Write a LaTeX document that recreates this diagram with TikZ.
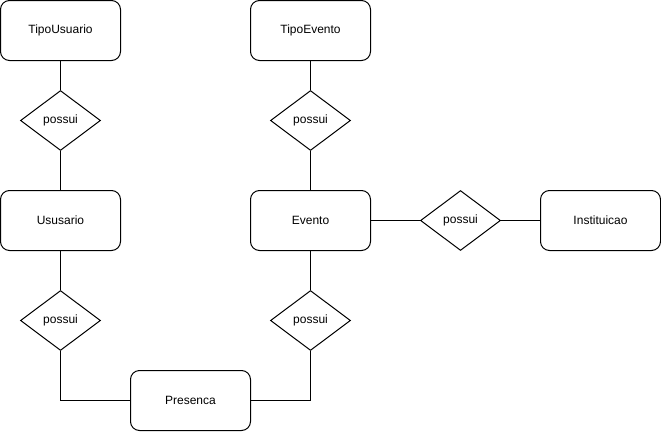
\documentclass[tikz,border=0pt]{standalone}
\usepackage{fontspec}
\setmainfont{Liberation Sans}
\usetikzlibrary{shapes.geometric}
\begin{document}
\begin{tikzpicture}[x=1pt,y=-1pt,
  ent/.style={draw,rounded corners=9pt,minimum width=120pt,minimum height=60pt,line width=1pt,font=\fontsize{12}{14}\selectfont,inner sep=0pt},
  rel/.style={draw,diamond,aspect=1.3333,minimum width=80pt,minimum height=60pt,inner sep=0pt,line width=1pt,font=\fontsize{12}{14}\selectfont},
  conn/.style={line width=1pt}]
\useasboundingbox (0,0) rectangle (661,431);
\node[ent] (tu) at (60.5,30.5) {TipoUsuario};
\node[ent] (te) at (310.5,30.5) {TipoEvento};
\node[ent] (us) at (60.5,220.5) {Ususario};
\node[ent] (ev) at (310.5,220.5) {Evento};
\node[ent] (in) at (600.5,220.5) {Instituicao};
\node[ent] (pr) at (190.5,400.5) {Presenca};
\node[rel] (d1) at (60.5,120.5) {possui};
\node[rel] (d2) at (310.5,120.5) {possui};
\node[rel] (d3) at (60.5,320.5) {possui};
\node[rel] (d4) at (310.5,320.5) {possui};
\node[rel] (d5) at (460.5,220.5) {possui};
\draw[conn] (tu) -- (d1) -- (us);
\draw[conn] (te) -- (d2) -- (ev);
\draw[conn] (us) -- (d3);
\draw[conn] (ev) -- (d4);
\draw[conn] (ev) -- (d5) -- (in);
\draw[conn] (pr.west) -| (d3.south);
\draw[conn] (pr.east) -| (d4.south);
\end{tikzpicture}
\end{document}
